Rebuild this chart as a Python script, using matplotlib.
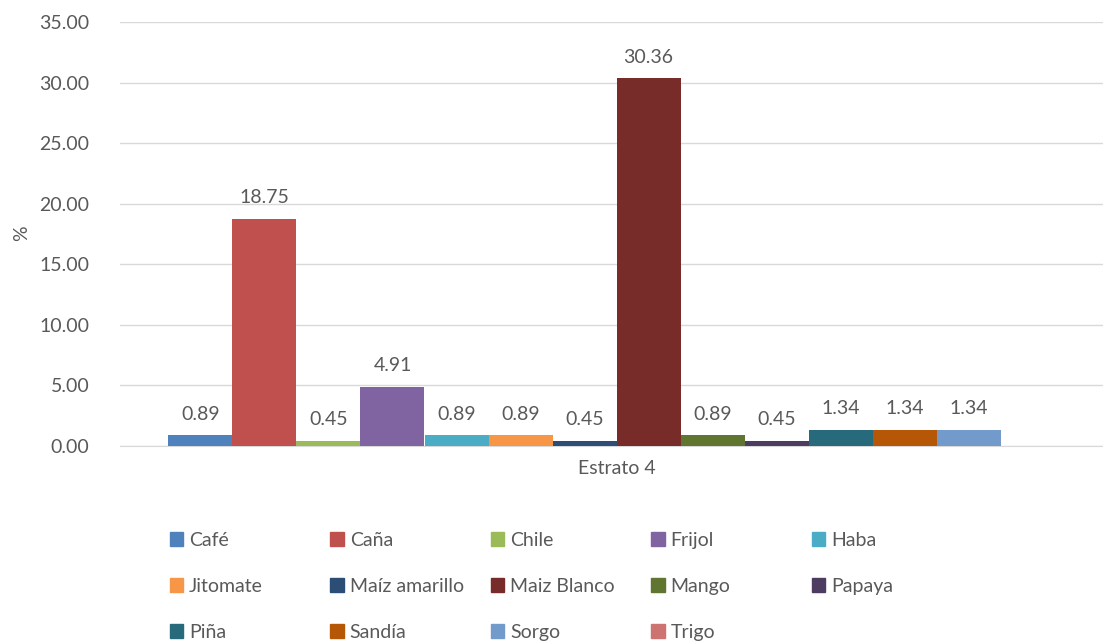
import numpy as np
import matplotlib.pyplot as plt
from matplotlib.patches import Patch

# datos
cultivos = ['Café', 'Caña', 'Chile', 'Frijol', 'Haba', 'Jitomate', 'Maíz amarillo',
            'Maiz Blanco', 'Mango', 'Papaya', 'Piña', 'Sandía', 'Sorgo', 'Trigo']
valores = [0.89, 18.75, 0.45, 4.91, 0.89, 0.89, 0.45,
           30.36, 0.89, 0.45, 1.34, 1.34, 1.34, np.nan]
colores = ['#4F81BD', '#C0504D', '#9BBB59', '#8064A2', '#4BACC6', '#F79646', '#2C4D75',
           '#772C2A', '#5F7530', '#4D3B62', '#276A7C', '#B65708', '#729ACA', '#CD7371']
categoria = 'Estrato 4'
yticks = [0, 5, 10, 15, 20, 25, 30, 35]

gris = '#595959'
fs = 14
plt.rcParams['font.family'] = ['Lato', 'DejaVu Sans']

fig = plt.figure(figsize=(11.03, 6.43), dpi=100)
ax = fig.add_axes([120/1103, 1-446/643, 1-120/1103, (446-22)/643])

w = 64/993
n = len(cultivos)
handles = []
for i, (c, v, col) in enumerate(zip(cultivos, valores, colores)):
    x = (i - (n-1)/2) * w
    h = 0 if np.isnan(v) else v
    ax.bar(x, h, width=w, color=col, zorder=3)
    handles.append(Patch(color=col, label=c))
    if not np.isnan(v):
        ax.annotate(f'{v:.2f}', (x, v), xytext=(0, 9), textcoords='offset points',
                    ha='center', va='bottom', fontsize=fs, color=gris)

ax.set_xlim(-0.5, 0.5 - 10/993)
ax.set_ylim(0, 35)
ax.set_yticks(yticks)
ax.set_yticklabels([f'{t:.2f}' for t in yticks], fontsize=fs, color=gris)
ax.set_xticks([0])
ax.set_xticklabels([categoria], fontsize=fs, color=gris)
ax.tick_params(length=0, pad=10)
ax.tick_params(axis='y', pad=22)
ax.grid(axis='y', color='#D9D9D9', linewidth=1, zorder=0)
for s in ['top', 'right', 'left']:
    ax.spines[s].set_visible(False)
ax.spines['bottom'].set_color('#D9D9D9')
ax.set_ylabel('%', fontsize=fs, color=gris)
ax.yaxis.set_label_coords(-90/983, (446-233)/424)

# leyenda: 5 columnas de ancho fijo
for c in range(5):
    hs = [handles[r*5 + c] for r in range(3) if r*5 + c < n]
    fig.legend(handles=hs, loc='upper left', bbox_to_anchor=((160 + 160.5*c)/1103, 1-522/643),
               frameon=False, fontsize=fs, labelcolor=gris, handlelength=0.7,
               handleheight=0.7, handletextpad=0.3, labelspacing=1.5, borderpad=0)

fig.savefig('out.png', dpi=100)
